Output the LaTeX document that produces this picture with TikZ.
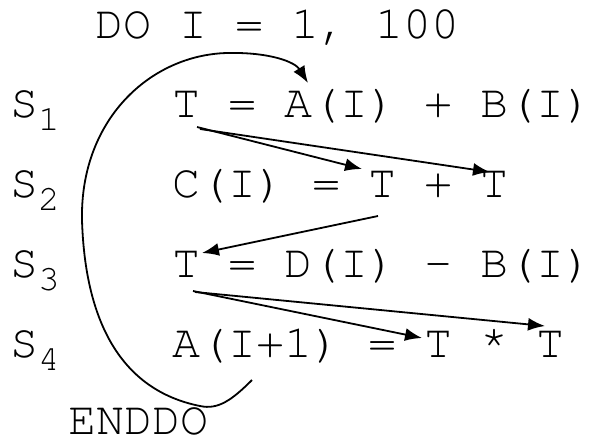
\documentclass[tikz,border=0pt]{standalone}
\usepackage{fontspec}
\IfFontExistsTF{TeX Gyre Cursor}
  {\newfontfamily\codefont{TeX Gyre Cursor}}
  {\newfontfamily\codefont{Liberation Mono}}
\usetikzlibrary{arrows.meta}

\tikzset{
  code/.style={anchor=base west, inner sep=0pt, font=\codefont\fontsize{46.7}{50}\selectfont},
  dep/.style={-{Latex[length=17pt,width=13pt]}, line width=1.8pt},
}
\newcommand{\slab}[1]{S\raisebox{-13pt}{\fontsize{36}{36}\selectfont #1}}

\begin{document}
\begin{tikzpicture}[x=1pt,y=-1pt]
\useasboundingbox (0,0) rectangle (594,440);

%loop bounds
\node[code] (doline) at (95,38) {DO I = 1, 100};
\node[code] (enddo) at (68,434) {ENDDO};

%labels
\node[code] (lab1) at (10,117) {\slab{1}};
\node[code] (lab2) at (10,197) {\slab{2}};
\node[code] (lab3) at (10,277) {\slab{3}};
\node[code] (lab4) at (10,357) {\slab{4}};

%statements
\node[code] (st1) at (172,117) {T = A(I) + B(I)};
\node[code] (st2) at (172,197) {C(I) = T + T};
\node[code] (st3) at (172,277) {T = D(I) - B(I)};
\node[code] (st4) at (172,357) {A(I+1) = T * T};

%arrow ends
\coordinate (w1a) at (197,127);
\coordinate (w1b) at (200,129);
\coordinate (r2a) at (362,169);
\coordinate (r2b) at (490,172);
\coordinate (r2c) at (378,216);
\coordinate (w3) at (202,253);
\coordinate (w3a) at (193,291);
\coordinate (w3b) at (195,292);
\coordinate (r4a) at (422,338);
\coordinate (r4b) at (545,326);
\coordinate (back) at (252,380);
\coordinate (a1) at (308,83);

%dependences
\draw[dep] (w1a) -- (r2a);
\draw[dep] (w1b) -- (r2b);
\draw[dep] (r2c) -- (w3);
\draw[dep] (w3a) -- (r4a);
\draw[dep] (w3b) -- (r4b);

%loop carried
\draw[dep] (back) .. controls (232,400) and (218,410) .. (200,406)
  .. controls (120,390) and (85,320) .. (82,220)
  .. controls (80,120) and (150,55) .. (227,53)
  .. controls (270,52) and (295,62) .. (a1);
\end{tikzpicture}
\end{document}
